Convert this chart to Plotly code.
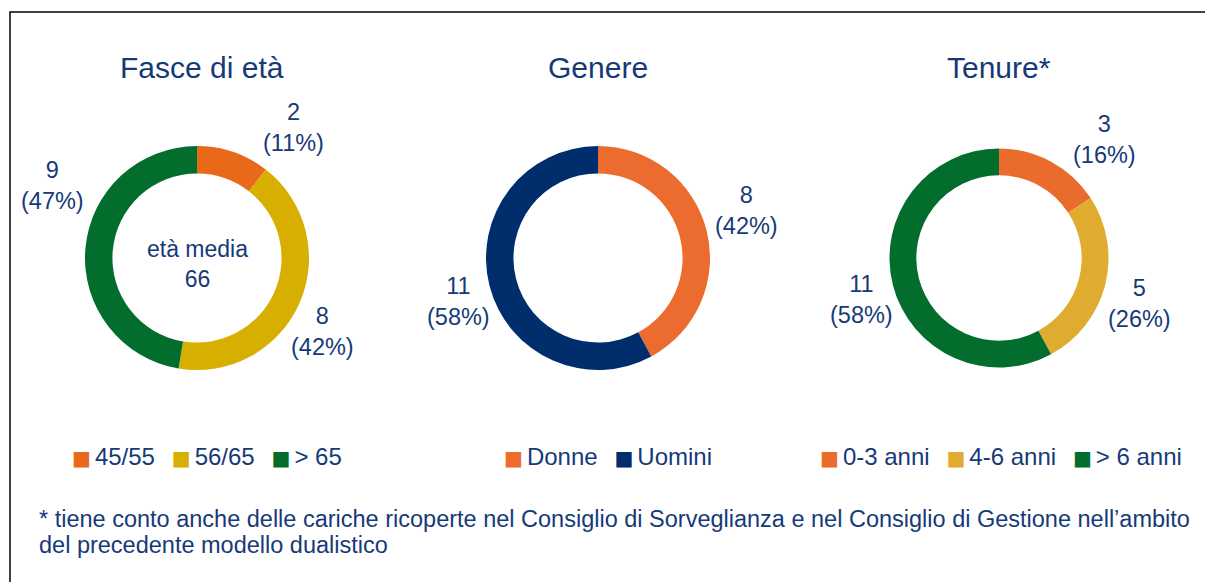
import plotly.graph_objects as go

W, H = 1205, 582

eta_labels = ["45/55", "56/65", "> 65"]
eta_values = [2, 8, 9]
eta_colors = ["#E8691A", "#D6AF00", "#036D2E"]

genere_labels = ["Donne", "Uomini"]
genere_values = [8, 11]
genere_colors = ["#EC6B2E", "#002D6C"]

tenure_labels = ["0-3 anni", "4-6 anni", "> 6 anni"]
tenure_values = [3, 5, 11]
tenure_colors = ["#EA6C2D", "#DFAC2F", "#036D2E"]

titles = ["Fasce di età", "Genere", "Tenure*"]
eta_media = 66
footnote_lines = ["* tiene conto anche delle cariche ricoperte nel Consiglio di Sorveglianza e nel Consiglio di Gestione nell’ambito",
                  "del precedente modello dualistico"]

TXT = "#163A78"
FONT = "Liberation Sans, Arial, sans-serif"

# layout (pixel) settings
centers = [197, 598, 999]
radii = [112, 112, 109.5]
cy = 258
title_y = 67
legend_x = [207, 608, 1001]
legend_y = 456
# label block centers (px) for each slice, per chart
label_pos = [[(293, 127), (322, 331), (52, 185)],
             [(746, 210), (458, 301)],
             [(1104, 139), (1139, 303), (861, 300)]]

def px_dom(cx, R):
    x = [(cx - R) / W, (cx + R) / W]
    y = [(H - cy - R) / H, (H - cy + R) / H]
    return x, y

def px(x, y):
    return x / W, 1 - y / H

fig = go.Figure()
data = [(eta_labels, eta_values, eta_colors),
        (genere_labels, genere_values, genere_colors),
        (tenure_labels, tenure_values, tenure_colors)]
annotations = []
for i, (lab, val, col) in enumerate(data):
    dx, dy = px_dom(centers[i], radii[i])
    fig.add_trace(go.Pie(
        labels=lab, values=val, hole=0.755, sort=False, direction="clockwise",
        rotation=0, marker=dict(colors=col, line=dict(width=0)),
        textinfo="none", domain=dict(x=dx, y=dy), showlegend=False,
        hoverinfo="label+value+percent",
    ))
    total = sum(val)
    for j, v in enumerate(val):
        x, y = px(*label_pos[i][j])
        annotations.append(dict(text=f"{v}<br>({round(100 * v / total)}%)", x=x, y=y,
                                xref="paper", yref="paper", showarrow=False,
                                font=dict(size=23.5, color=TXT, family=FONT),
                                xanchor="center", yanchor="middle"))
    # legend
    sq = "<span style='color:{c};font-family:DejaVu Sans;font-size:20px'>■\u2009</span>"
    parts = [sq.format(c=c) + l for l, c in zip(lab, col)]
    lx, ly = px(legend_x[i], legend_y)
    annotations.append(dict(text="\u2002\u2009".join(parts), x=lx, y=ly, xref="paper", yref="paper",
                            showarrow=False, font=dict(size=24, color=TXT, family=FONT),
                            xanchor="center", yanchor="middle"))
    tx, ty = px(centers[i] + (5 if i == 0 else 0), title_y)
    annotations.append(dict(text=titles[i], x=tx, y=ty, xref="paper", yref="paper",
                            showarrow=False, font=dict(size=30, color=TXT, family=FONT),
                            xanchor="center", yanchor="middle"))

cx_, cy_ = px(centers[0], 264)
annotations.append(dict(text=f"età media<br>{eta_media}", x=cx_, y=cy_,
                        xref="paper", yref="paper", showarrow=False,
                        font=dict(size=23, color=TXT, family=FONT), xanchor="center", yanchor="middle"))
for k, (line, yy) in enumerate(zip(footnote_lines, [519, 545])):
    fx, fy = px(37, yy)
    annotations.append(dict(text=line, x=fx, y=fy, xref="paper", yref="paper",
                            showarrow=False, align="left", xanchor="left", yanchor="middle",
                            font=dict(size=23.5, color=TXT, family=FONT)))

fig.update_layout(
    width=W, height=H, margin=dict(l=0, r=0, t=0, b=0),
    paper_bgcolor="white", plot_bgcolor="white",
    font=dict(family=FONT, color=TXT),
    annotations=annotations,
    shapes=[dict(type="rect", xref="paper", yref="paper", x0=10 / W, y0=-0.05, x1=1.05, y1=1 - 12 / H,
                 line=dict(color="black", width=1.5), fillcolor="rgba(0,0,0,0)")],
)

fig.write_html("out.html", config={"displayModeBar": False},
               post_script="document.body.style.margin='0';")
